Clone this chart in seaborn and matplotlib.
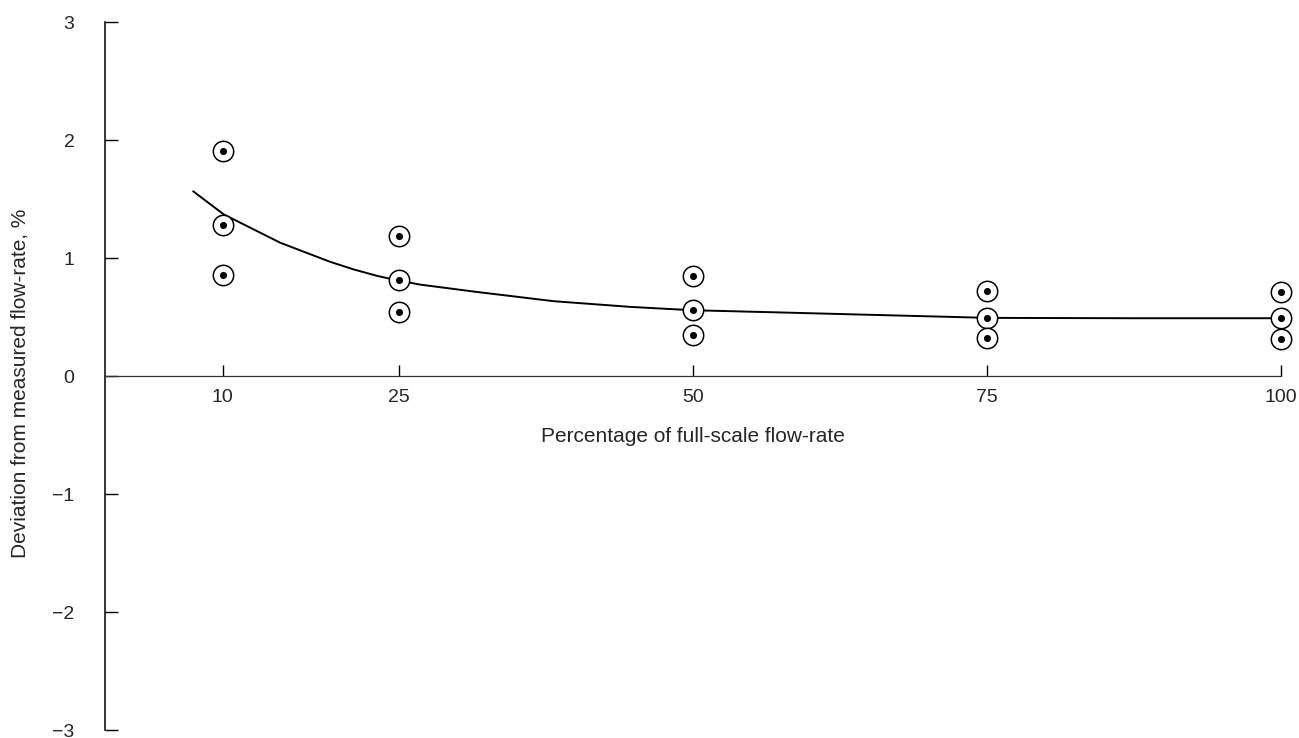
import matplotlib
matplotlib.use("Agg")
import matplotlib.pyplot as plt
import pandas as pd
import seaborn as sns

# Measured deviations at each test flow-rate (three runs per flow-rate)
flow_rates = [10, 10, 10, 25, 25, 25, 50, 50, 50, 75, 75, 75, 100, 100, 100]
deviations = [1.91, 1.28, 0.86, 1.19, 0.81, 0.54, 0.85, 0.56, 0.35,
              0.72, 0.49, 0.32, 0.71, 0.49, 0.31]

# Mean deviation curve
curve_flow = [7.5, 10.1, 12.1, 14.9, 17.0, 19.1, 21.1, 23.1, 24.9, 26.8,
              31.6, 38.2, 44.7, 49.9, 57.8, 64.3, 70.9, 75.1, 87.5, 100]
curve_dev = [1.566, 1.37, 1.27, 1.13, 1.05, 0.97, 0.905, 0.85, 0.81, 0.775,
             0.713, 0.634, 0.586, 0.558, 0.538, 0.521, 0.504, 0.493, 0.49,
             0.49]

x_ticks = [10, 25, 50, 75, 100]
x_tick_labels = ["10", "25", "50", "75", "100"]
y_ticks = [-3, -2, -1, 0, 1, 2, 3]
y_tick_labels = ["\u22123", "\u22122", "\u22121", "0", "1", "2", "3"]

points = pd.DataFrame({"flow": flow_rates, "deviation": deviations})
curve = pd.DataFrame({"flow": curve_flow, "deviation": curve_dev})

sns.set_style("white")
plt.rcParams["font.family"] = ["Liberation Sans", "DejaVu Sans"]

fig = plt.figure(figsize=(12.99, 7.38), dpi=100)
ax = fig.add_axes([0.0808, 0.0108, 0.9053, 0.9593])

sns.lineplot(data=curve, x="flow", y="deviation", ax=ax, color="black",
             linewidth=1.4, zorder=2)
sns.scatterplot(data=points, x="flow", y="deviation", ax=ax, marker="o",
                s=215, facecolor="white", edgecolor="black", linewidth=1.1,
                zorder=3, clip_on=False)
sns.scatterplot(data=points, x="flow", y="deviation", ax=ax, marker="o",
                s=26, color="black", edgecolor="black", linewidth=0,
                zorder=4, clip_on=False)

ax.set_xlim(0, 100)
ax.set_ylim(-3, 3)

# Spines: left axis full height, bottom axis running along zero
for side in ("top", "right"):
    ax.spines[side].set_visible(False)
ax.spines["left"].set_color("black")
ax.spines["left"].set_linewidth(1.1)
ax.spines["bottom"].set_position(("data", 0))
ax.spines["bottom"].set_color("#333333")
ax.spines["bottom"].set_linewidth(0.9)
ax.spines["bottom"].set_bounds(0, 100)

ax.set_xticks(x_ticks)
ax.set_xticklabels(x_tick_labels)
ax.set_yticks(y_ticks)
ax.set_yticklabels(y_tick_labels)
ax.tick_params(axis="x", direction="in", length=8, width=1.0, pad=9,
               labelsize=14, color="black", bottom=True)
ax.tick_params(axis="y", direction="in", length=9, width=1.0, pad=22,
               labelsize=14, color="black", left=True)
for tick, val in zip(ax.yaxis.get_major_ticks(), y_ticks):
    if val in (-1, -2):
        tick.tick1line.set_color("#999999")
        tick.tick1line.set_linewidth(0.7)

ax.set_xlabel("Percentage of full-scale flow-rate", fontsize=15)
ax.xaxis.set_label_coords(0.5, 0.414)
ax.xaxis.label.set_va("center")
ax.set_ylabel("Deviation from measured flow-rate, %", fontsize=15)
ax.yaxis.set_label_coords(-0.072, 0.49)
ax.yaxis.label.set_va("center")

fig.savefig("out.png", dpi=100)
